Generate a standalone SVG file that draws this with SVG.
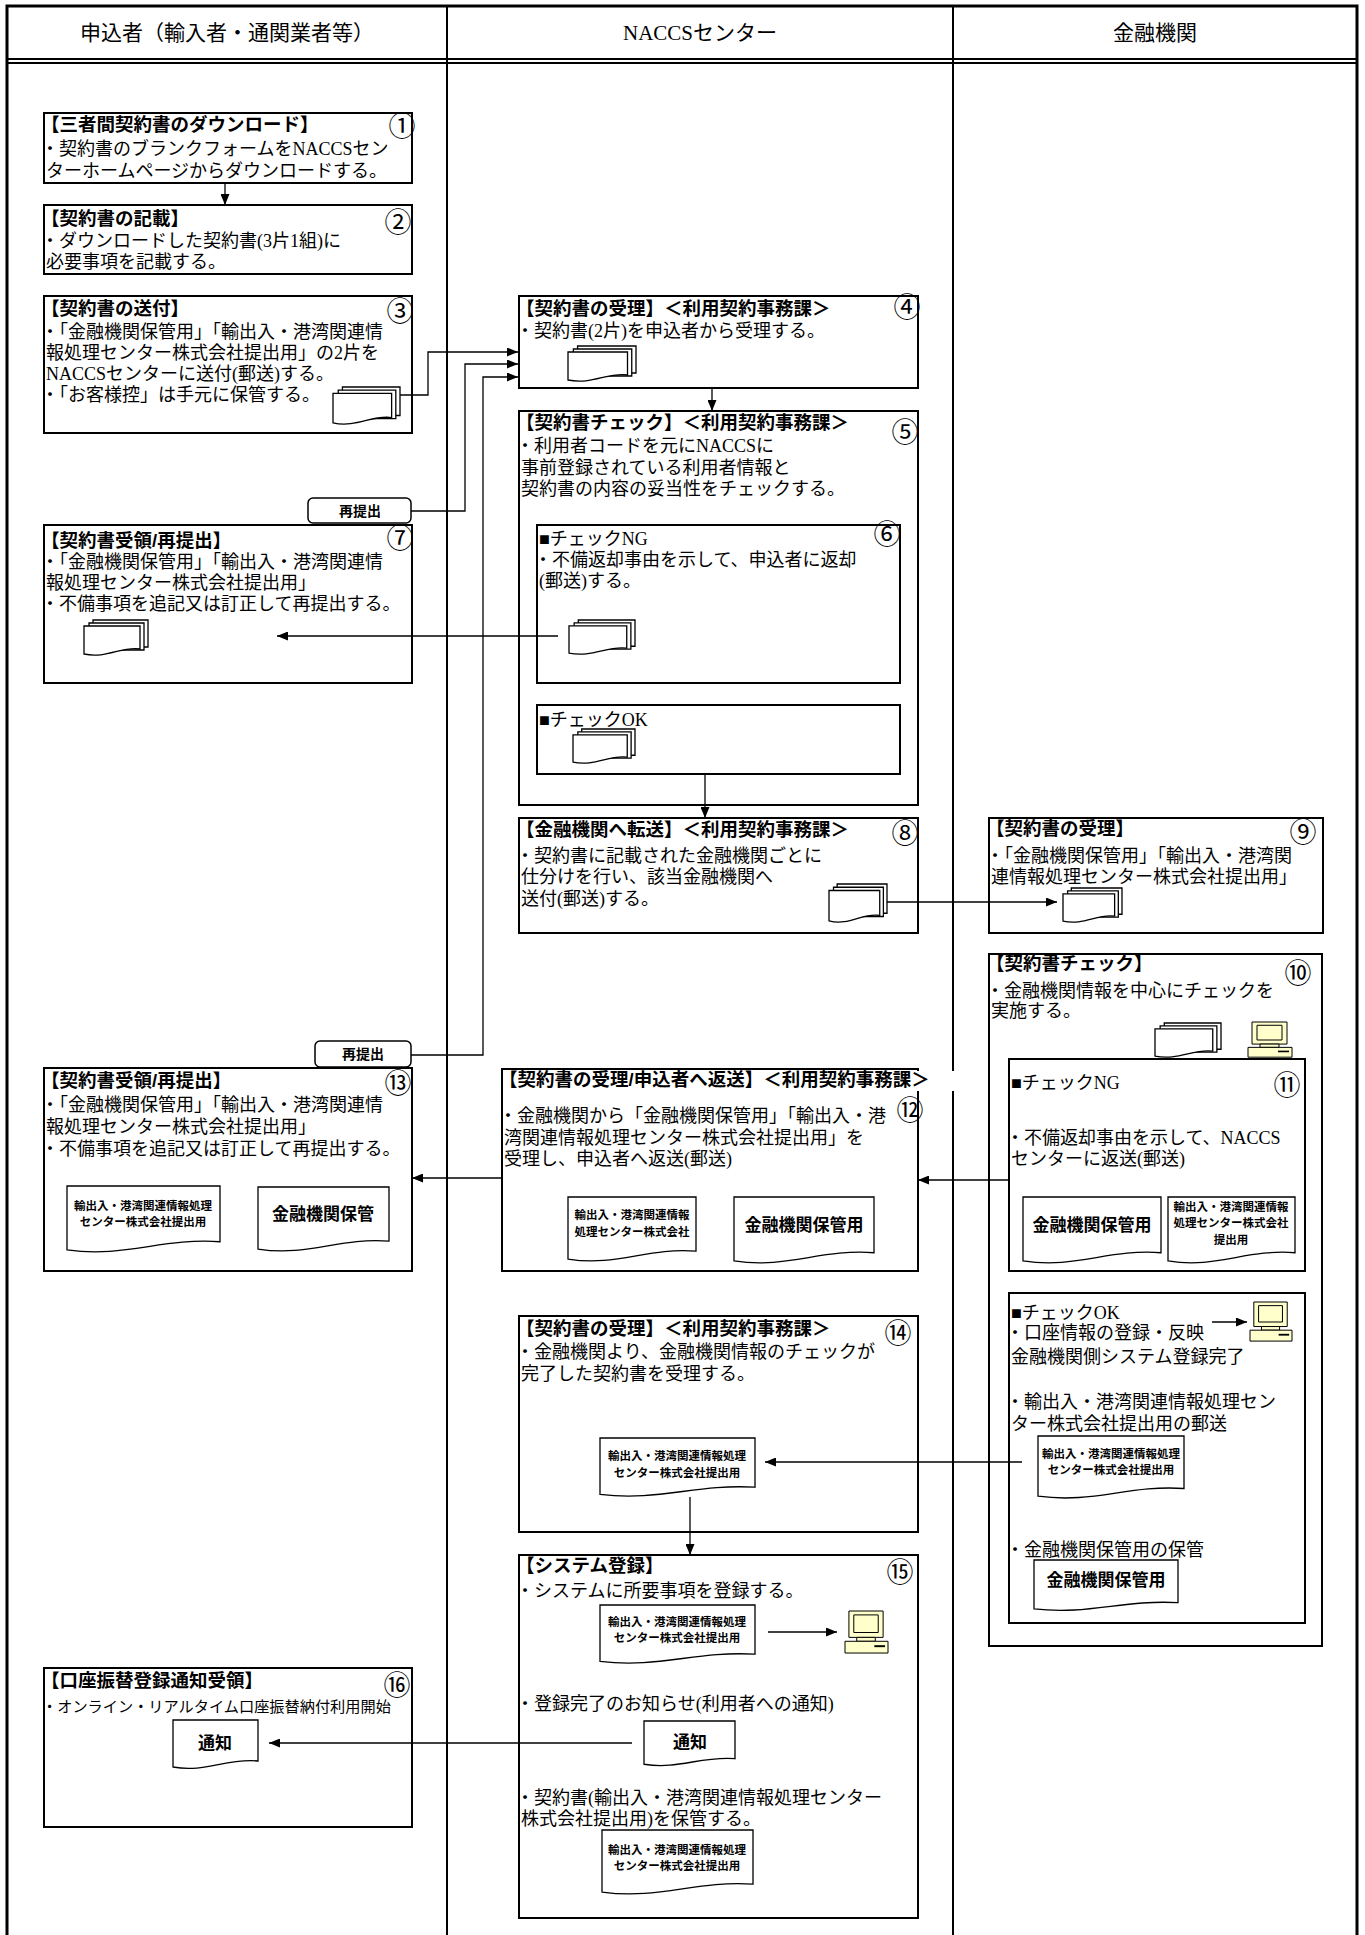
<svg xmlns="http://www.w3.org/2000/svg" width="1365" height="1935" viewBox="0 0 1365 1935">
<defs>
<style>
.bx{fill:#fff;stroke:#000;stroke-width:2}
.frame{fill:none;stroke:#000;stroke-width:3}
.lane{stroke:#000;stroke-width:2}
.hd{font-family:"Liberation Sans","Noto Sans CJK JP",sans-serif;font-size:21px;text-anchor:middle}
.hds{font-family:"Liberation Serif","Noto Sans CJK JP",serif;font-size:21px;text-anchor:middle}
.t{font-family:"Liberation Sans","Noto Sans CJK JP",sans-serif;font-size:18.5px;font-weight:bold}
.b{font-family:"Liberation Serif","Noto Sans CJK JP",serif;font-size:18px}
.n{font-family:"Noto Sans CJK JP",sans-serif;font-size:27px;text-anchor:middle}
.s{font-family:"Liberation Sans","Noto Sans CJK JP",sans-serif;font-size:11.5px;font-weight:bold;text-anchor:middle}
.m{font-family:"Liberation Sans","Noto Sans CJK JP",sans-serif;font-size:17px;font-weight:bold;text-anchor:middle}
.r{font-family:"Liberation Sans","Noto Sans CJK JP",sans-serif;font-size:14px;font-weight:bold;text-anchor:middle}
.c{fill:none;stroke:#000;stroke-width:1.3}
.ds{fill:#fff;stroke:#000;stroke-width:1.3;vector-effect:non-scaling-stroke}
.pc{fill:#ffffcc;stroke:#000;stroke-width:1;vector-effect:non-scaling-stroke}
.rb{fill:#fff;stroke:#000;stroke-width:1.5}
</style>
<marker id="ah" markerWidth="11" markerHeight="9" refX="11" refY="4.5" orient="auto" markerUnits="userSpaceOnUse"><path d="M0,0 L11,4.5 L0,9 Z" fill="#000"/></marker>
<symbol id="doc" viewBox="0 0 100 100" preserveAspectRatio="none" overflow="visible"><path class="ds" d="M0,0 H100 V82 C62,76 38,106 0,94 Z"/></symbol>
<symbol id="stack" viewBox="0 0 64 36" preserveAspectRatio="none" overflow="visible"><path class="ds" d="M9,0 H64 V27 H9 Z"/><path class="ds" d="M5,3 H60 V30 H5 Z"/><path class="ds" d="M0,6 H56 V29 C38,26 22,39 0,34 Z"/></symbol>
<symbol id="pc" viewBox="0 0 44 44" preserveAspectRatio="none" overflow="visible"><rect class="pc" x="4" y="0" width="35" height="27"/><rect class="pc" x="9" y="4" width="25" height="18"/><rect class="pc" x="12" y="27" width="19" height="4"/><rect class="pc" x="0" y="31" width="44" height="12"/><rect x="30" y="35" width="11" height="2" fill="#000"/></symbol>
</defs>
<rect width="1365" height="1935" fill="#fff"/>
<g id="frame">
<rect class="frame" x="7" y="6" width="1350" height="1945"/>
<line class="lane" x1="447" y1="6" x2="447" y2="1935"/>
<line class="lane" x1="953" y1="6" x2="953" y2="1935"/>
<line class="lane" x1="7" y1="59" x2="1357" y2="59"/>
<line class="lane" x1="7" y1="63" x2="1357" y2="63"/>
<text class="hd" x="227" y="40">申込者（輸入者・通関業者等）</text>
<text class="hds" x="700" y="40">NACCSセンター</text>
<text class="hd" x="1155" y="40">金融機関</text>
</g>
<g id="n1">
<rect class="bx" x="44" y="113" width="368" height="70"/>
<text class="t" x="41" y="131">【三者間契約書のダウンロード】</text>
<text class="b" x="41" y="155">・契約書のブランクフォームをNACCSセン</text>
<text class="b" x="46" y="177">ターホームページからダウンロードする。</text>
<text class="n" x="402" y="136">①</text>
</g>
<g id="n2">
<rect class="bx" x="44" y="205" width="368" height="69"/>
<text class="t" x="41" y="225">【契約書の記載】</text>
<text class="b" x="41" y="247">・ダウンロードした契約書(3片1組)に</text>
<text class="b" x="46" y="268">必要事項を記載する。</text>
<text class="n" x="398" y="232">②</text>
</g>
<g id="n3">
<rect class="bx" x="44" y="296" width="368" height="137"/>
<text class="t" x="41" y="315">【契約書の送付】</text>
<text class="b" x="41" y="338">・「金融機関保管用」「輸出入・港湾関連情</text>
<text class="b" x="46" y="359">報処理センター株式会社提出用」の2片を</text>
<text class="b" x="46" y="380">NACCSセンターに送付(郵送)する。</text>
<text class="b" x="41" y="401">・「お客様控」は手元に保管する。</text>
<text class="n" x="400" y="321">③</text>
<use href="#stack" x="333" y="387" width="67" height="38"/>
</g>
<g id="r1">
<rect class="rb" x="308" y="498" width="103" height="25" rx="5"/>
<text class="r" x="360" y="516">再提出</text>
</g>
<g id="n7">
<rect class="bx" x="44" y="525" width="368" height="158"/>
<text class="t" x="41" y="547">【契約書受領/再提出】</text>
<text class="b" x="41" y="568">・「金融機関保管用」「輸出入・港湾関連情</text>
<text class="b" x="46" y="589">報処理センター株式会社提出用」</text>
<text class="b" x="41" y="610">・不備事項を追記又は訂正して再提出する。</text>
<text class="n" x="400" y="548">⑦</text>
<use href="#stack" x="84" y="620" width="64" height="36"/>
</g>
<g id="n4">
<rect class="bx" x="519" y="296" width="399" height="92"/>
<text class="t" x="516" y="315">【契約書の受理】＜利用契約事務課＞</text>
<text class="b" x="516" y="337">・契約書(2片)を申込者から受理する。</text>
<text class="n" x="907" y="317">④</text>
<use href="#stack" x="568" y="346" width="68" height="36"/>
</g>
<g id="n5">
<rect class="bx" x="519" y="411" width="399" height="394"/>
<text class="t" x="516" y="429">【契約書チェック】＜利用契約事務課＞</text>
<text class="b" x="516" y="452">・利用者コードを元にNACCSに</text>
<text class="b" x="521" y="474">事前登録されている利用者情報と</text>
<text class="b" x="521" y="495">契約書の内容の妥当性をチェックする。</text>
<text class="n" x="905" y="442">⑤</text>
</g>
<g id="n6">
<rect class="bx" x="537" y="525" width="363" height="158"/>
<text class="b" x="539" y="545">■チェックNG</text>
<text class="b" x="534" y="566">・不備返却事由を示して、申込者に返却</text>
<text class="b" x="539" y="587">(郵送)する。</text>
<text class="n" x="887" y="544">⑥</text>
<use href="#stack" x="569" y="620" width="66" height="35"/>
</g>
<g id="n6ok">
<rect class="bx" x="537" y="705" width="363" height="69"/>
<text class="b" x="539" y="726">■チェックOK</text>
<use href="#stack" x="573" y="729" width="62" height="35"/>
</g>
<g id="n8">
<rect class="bx" x="519" y="818" width="399" height="115"/>
<text class="t" x="516" y="836">【金融機関へ転送】＜利用契約事務課＞</text>
<text class="b" x="516" y="862">・契約書に記載された金融機関ごとに</text>
<text class="b" x="521" y="883">仕分けを行い、該当金融機関へ</text>
<text class="b" x="521" y="905">送付(郵送)する。</text>
<text class="n" x="905" y="843">⑧</text>
<use href="#stack" x="829" y="884" width="58" height="39"/>
</g>
<g id="n9">
<rect class="bx" x="989" y="818" width="334" height="115"/>
<text class="t" x="986" y="835">【契約書の受理】</text>
<text class="b" x="986" y="862">・「金融機関保管用」「輸出入・港湾関</text>
<text class="b" x="991" y="883">連情報処理センター株式会社提出用」</text>
<text class="n" x="1303" y="842">⑨</text>
<use href="#stack" x="1063" y="888" width="59" height="35"/>
</g>
<g id="n10">
<rect class="bx" x="989" y="954" width="333" height="692"/>
<text class="t" x="986" y="970">【契約書チェック】</text>
<text class="b" x="986" y="997">・金融機関情報を中心にチェックを</text>
<text class="b" x="991" y="1017">実施する。</text>
<text class="n" x="1298" y="983">⑩</text>
<use href="#stack" x="1155" y="1023" width="66" height="35"/>
<use href="#pc" x="1248" y="1022" width="44" height="36"/>
</g>
<g id="n11">
<rect class="bx" x="1009" y="1059" width="296" height="212"/>
<text class="b" x="1011" y="1089">■チェックNG</text>
<text class="b" x="1006" y="1144">・不備返却事由を示して、NACCS</text>
<text class="b" x="1011" y="1165">センターに返送(郵送)</text>
<text class="n" x="1287" y="1095">⑪</text>
<use href="#doc" x="1023" y="1197" width="138" height="68"/>
<text class="m" x="1092" y="1231">金融機関保管用</text>
<use href="#doc" x="1168" y="1197" width="127" height="68"/>
<text class="s" x="1231" y="1211">輸出入・港湾関連情報</text>
<text class="s" x="1231" y="1227">処理センター株式会社</text>
<text class="s" x="1231" y="1244">提出用</text>
</g>
<g id="n11ok">
<rect class="bx" x="1009" y="1293" width="296" height="330"/>
<text class="b" x="1011" y="1319">■チェックOK</text>
<text class="b" x="1006" y="1339">・口座情報の登録・反映</text>
<text class="b" x="1011" y="1363">金融機関側システム登録完了</text>
<text class="b" x="1006" y="1408">・輸出入・港湾関連情報処理セン</text>
<text class="b" x="1011" y="1430">ター株式会社提出用の郵送</text>
<use href="#pc" x="1250" y="1302" width="42" height="40"/>
<use href="#doc" x="1038" y="1436" width="146" height="64"/>
<text class="s" x="1111" y="1458">輸出入・港湾関連情報処理</text>
<text class="s" x="1111" y="1474">センター株式会社提出用</text>
<text class="b" x="1006" y="1556">・金融機関保管用の保管</text>
<use href="#doc" x="1034" y="1560" width="144" height="52"/>
<text class="m" x="1106" y="1586">金融機関保管用</text>
</g>
<g id="n12">
<rect class="bx" x="502" y="1069" width="416" height="202"/>
<rect x="912" y="1071" width="46" height="20" fill="#fff"/>
<text class="t" x="499" y="1086">【契約書の受理/申込者へ返送】＜利用契約事務課＞</text>
<text class="n" x="910" y="1120">⑫</text>
<text class="b" x="499" y="1122">・金融機関から「金融機関保管用」「輸出入・港</text>
<text class="b" x="504" y="1144">湾関連情報処理センター株式会社提出用」を</text>
<text class="b" x="504" y="1165">受理し、申込者へ返送(郵送)</text>
<use href="#doc" x="568" y="1197" width="128" height="66"/>
<text class="s" x="632" y="1219">輸出入・港湾関連情報</text>
<text class="s" x="632" y="1236">処理センター株式会社</text>
<use href="#doc" x="734" y="1197" width="140" height="68"/>
<text class="m" x="804" y="1231">金融機関保管用</text>
</g>
<g id="r2">
<rect class="rb" x="315" y="1041" width="96" height="26" rx="5"/>
<text class="r" x="363" y="1059">再提出</text>
</g>
<g id="n13">
<rect class="bx" x="44" y="1068" width="368" height="203"/>
<text class="t" x="41" y="1087">【契約書受領/再提出】</text>
<text class="n" x="398" y="1093">⑬</text>
<text class="b" x="41" y="1111">・「金融機関保管用」「輸出入・港湾関連情</text>
<text class="b" x="46" y="1133">報処理センター株式会社提出用」</text>
<text class="b" x="41" y="1155">・不備事項を追記又は訂正して再提出する。</text>
<use href="#doc" x="67" y="1186" width="153" height="68"/>
<text class="s" x="143" y="1210">輸出入・港湾関連情報処理</text>
<text class="s" x="143" y="1226">センター株式会社提出用</text>
<use href="#doc" x="258" y="1187" width="131" height="66"/>
<text class="m" x="323" y="1220">金融機関保管</text>
</g>
<g id="n14">
<rect class="bx" x="519" y="1316" width="399" height="216"/>
<text class="t" x="516" y="1335">【契約書の受理】＜利用契約事務課＞</text>
<text class="n" x="898" y="1343">⑭</text>
<text class="b" x="516" y="1358">・金融機関より、金融機関情報のチェックが</text>
<text class="b" x="521" y="1380">完了した契約書を受理する。</text>
<use href="#doc" x="600" y="1438" width="155" height="60"/>
<text class="s" x="677" y="1460">輸出入・港湾関連情報処理</text>
<text class="s" x="677" y="1477">センター株式会社提出用</text>
</g>
<g id="n15">
<rect class="bx" x="519" y="1555" width="399" height="363"/>
<text class="t" x="516" y="1572">【システム登録】</text>
<text class="n" x="900" y="1582">⑮</text>
<text class="b" x="516" y="1597">・システムに所要事項を登録する。</text>
<use href="#doc" x="600" y="1605" width="155" height="60"/>
<text class="s" x="677" y="1626">輸出入・港湾関連情報処理</text>
<text class="s" x="677" y="1642">センター株式会社提出用</text>
<use href="#pc" x="845" y="1611" width="43" height="43"/>
<text class="b" x="516" y="1710">・登録完了のお知らせ(利用者への通知)</text>
<use href="#doc" x="644" y="1721" width="91" height="46"/>
<text class="m" x="690" y="1748">通知</text>
<text class="b" x="516" y="1804">・契約書(輸出入・港湾関連情報処理センター</text>
<text class="b" x="521" y="1825">株式会社提出用)を保管する。</text>
<use href="#doc" x="602" y="1830" width="151" height="66"/>
<text class="s" x="677" y="1854">輸出入・港湾関連情報処理</text>
<text class="s" x="677" y="1870">センター株式会社提出用</text>
</g>
<g id="n16">
<rect class="bx" x="44" y="1668" width="368" height="159"/>
<text class="t" x="41" y="1687">【口座振替登録通知受領】</text>
<text class="n" x="397" y="1695">⑯</text>
<text class="b" x="42" y="1712" style="font-size:15.2px">・オンライン・リアルタイム口座振替納付利用開始</text>
<use href="#doc" x="173" y="1720" width="85" height="50"/>
<text class="m" x="215" y="1749">通知</text>
</g>
<g id="connectors">
<polyline class="c" points="225,183 225,205" marker-end="url(#ah)"/>
<polyline class="c" points="400,395 428,395 428,352 518,352" marker-end="url(#ah)"/>
<polyline class="c" points="411,511 465,511 465,364 518,364" marker-end="url(#ah)"/>
<polyline class="c" points="411,1055 483,1055 483,377 518,377" marker-end="url(#ah)"/>
<polyline class="c" points="712,388 712,411" marker-end="url(#ah)"/>
<polyline class="c" points="558,636 277,636" marker-end="url(#ah)"/>
<polyline class="c" points="705,774 705,818" marker-end="url(#ah)"/>
<polyline class="c" points="887,902 1057,902" marker-end="url(#ah)"/>
<polyline class="c" points="1009,1180 918,1180" marker-end="url(#ah)"/>
<polyline class="c" points="502,1178 412,1178" marker-end="url(#ah)"/>
<polyline class="c" points="1022,1462 765,1462" marker-end="url(#ah)"/>
<polyline class="c" points="690,1497 690,1555" marker-end="url(#ah)"/>
<polyline class="c" points="768,1632 837,1632" marker-end="url(#ah)"/>
<polyline class="c" points="632,1743 269,1743" marker-end="url(#ah)"/>
<polyline class="c" points="1212,1322 1247,1322" marker-end="url(#ah)"/>
</g>
</svg>
